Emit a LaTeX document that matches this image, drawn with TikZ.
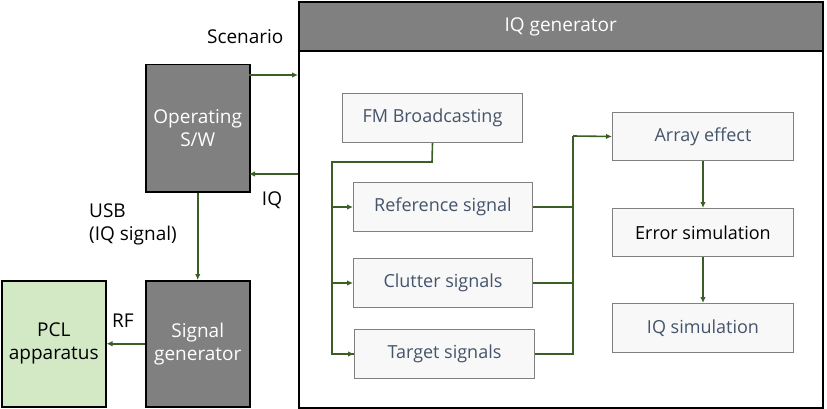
\documentclass[tikz,border=0pt]{standalone}
\usepackage{fontspec}
\setmainfont{Open Sans}
\usetikzlibrary{arrows.meta}
\definecolor{darkbox}{HTML}{808080}
\definecolor{pclgreen}{HTML}{D3E9C5}
\definecolor{lnk}{HTML}{3B5E26}
\definecolor{boxtext}{HTML}{44546A}
\definecolor{lightbox}{HTML}{F8F8F8}
\begin{document}
\begin{tikzpicture}[x=1pt,y=-1pt,
  darkblock/.style={draw=black,line width=1.5pt,fill=darkbox,text=white,align=center,font=\fontsize{19}{23}\selectfont},
  greenblock/.style={draw=black,line width=1.5pt,fill=pclgreen,text=black,align=center,font=\fontsize{19}{23}\selectfont},
  inner/.style={draw=darkbox,line width=1pt,fill=lightbox,text=boxtext,font=\fontsize{18}{21}\selectfont},
  link/.style={draw=lnk,line width=1.6pt,-{Latex[length=6pt,width=5.5pt]}},
  plain/.style={draw=lnk,line width=1.6pt},
  lbl/.style={font=\fontsize{19}{23}\selectfont,text=black}]
\useasboundingbox (0,0) rectangle (827,409);
% IQ generator container
\node[draw=black,line width=2pt,fill=white,minimum width=524pt,minimum height=405pt,anchor=north west,inner sep=0pt] (iqg) at (298,1.5) {};
\node[draw=black,line width=1.5pt,fill=darkbox,minimum width=524pt,minimum height=49pt,anchor=north west,inner sep=0pt,text=white,font=\fontsize{19}{23}\selectfont] (hdr) at (298,1.5) {IQ generator};
% left blocks
\node[darkblock,minimum width=104pt,minimum height=127pt,anchor=north west,inner sep=0pt] (osw) at (145,64) {Operating\\S/W};
\node[darkblock,minimum width=104pt,minimum height=126pt,anchor=north west,inner sep=0pt] (sg) at (145,280) {Signal\\generator};
\node[greenblock,minimum width=104pt,minimum height=126pt,anchor=north west,inner sep=0pt] (pcl) at (1,280) {PCL\\apparatus};
% inner blocks
\node[inner,minimum width=180pt,minimum height=49pt,anchor=north west,inner sep=0pt] (fm) at (342,93) {FM Broadcasting};
\node[inner,minimum width=179pt,minimum height=49pt,anchor=north west,inner sep=0pt] (ref) at (353,182) {Reference signal};
\node[inner,minimum width=179pt,minimum height=49pt,anchor=north west,inner sep=0pt] (clu) at (353,258) {Clutter signals};
\node[inner,minimum width=180pt,minimum height=49pt,anchor=north west,inner sep=0pt] (tgt) at (354,329) {Target signals};
\node[inner,minimum width=181pt,minimum height=48pt,anchor=north west,inner sep=0pt] (arr) at (612,112) {Array effect};
\node[inner,text=black,minimum width=181pt,minimum height=48pt,anchor=north west,inner sep=0pt] (err) at (612,208) {Error simulation};
\node[inner,minimum width=181pt,minimum height=49pt,anchor=north west,inner sep=0pt] (iqs) at (612,303) {IQ simulation};
% labels
\node[lbl,anchor=east] (scn) at (287,37) {Scenario};
\node[lbl] (iql) at (272,200) {IQ};
\node[lbl,anchor=north west,align=left,inner sep=0pt] (usb) at (89,204) {USB\\(IQ signal)};
\node[lbl] (rfl) at (123,321) {RF};
% coordinates
\coordinate (osA) at (249,75);
\coordinate (iqA) at (298,75);
\coordinate (osB) at (249,174);
\coordinate (iqB) at (298,174);
\coordinate (fmT) at (432,162);
\coordinate (bus) at (332,162);
\coordinate (rbus) at (573,136);
% connectors
\draw[link] (osA) -- (iqA);
\draw[link] (iqB) -- (osB);
\draw[link] (osw.south) -- (sg.north);
\draw[link] (sg.west) -- (pcl.east);
\draw[plain] (fm.south) -- (fmT) -- (bus) |- (tgt.west);
\draw[link] (bus |- ref.west) -- (ref.west);
\draw[link] (bus |- clu.west) -- (clu.west);
\draw[link] (bus |- tgt.west) -- (tgt.west);
\draw[plain] (ref.east) -- (rbus |- ref.east);
\draw[plain] (clu.east) -- (rbus |- clu.east);
\draw[plain] (tgt.east) -- (rbus |- tgt.east) -- (rbus);
\draw[link] (rbus) -- (arr.west);
\draw[link] (arr.south) -- (err.north);
\draw[link] (err.south) -- (iqs.north);
\end{tikzpicture}
\end{document}
